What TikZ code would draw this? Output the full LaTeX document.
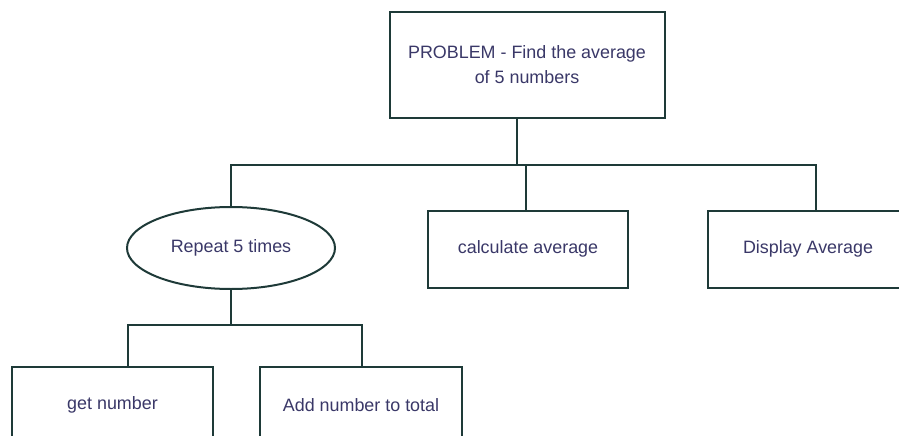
\documentclass[tikz,border=0pt]{standalone}
\usepackage{fontspec}
\setmainfont{Liberation Sans}
\usetikzlibrary{shapes.geometric}
\definecolor{edgecol}{HTML}{1E3A38}
\definecolor{txtcol}{HTML}{3A3868}
\begin{document}
\begin{tikzpicture}[x=1pt,y=-1pt,
  every node/.style={font=\fontsize{17.9}{25}\selectfont, text=txtcol},
  box/.style={draw=edgecol, line width=2pt, rectangle, inner sep=0pt, align=center},
  oval/.style={draw=edgecol, line width=2pt, ellipse, inner sep=0pt, minimum width=208pt, minimum height=82pt},
  link/.style={draw=edgecol, line width=2pt}]
\useasboundingbox (0,0) rectangle (899,436);
\clip (0,0) rectangle (899,436);
\fill[white] (0,0) rectangle (899,436);

% boxes
\node[box, minimum width=275pt, minimum height=106pt] (top) at (527,65)
  {PROBLEM - Find the average\\of 5 numbers};
\node[oval] (rep) at (231,248) {Repeat 5 times};
\node[box, minimum width=200pt, minimum height=77pt] (calc) at (528,249) {calculate average};
\node[box, minimum width=200pt, minimum height=77pt] (disp) at (808,249) {Display Average};
\node[box, minimum width=201pt, minimum height=77pt] (get) at (112.5,405) {get number};
\node[box, minimum width=202pt, minimum height=77pt] (add) at (361,405) {Add number to total};

% junction points of the tree
\coordinate (j1) at (517,165);
\coordinate (jd) at (816,165);
\coordinate (jc) at (526,165);
\coordinate (j2) at (231,325);
\coordinate (jg) at (128,325);
\coordinate (ja) at (362,325);

% connectors
\draw[link] (top.south -| j1) -- (j1);
\draw[link] (rep.north) |- (jd) -- (jd |- disp.north);
\draw[link] (jc) -- (jc |- calc.north);
\draw[link] (rep.south) -- (j2);
\draw[link] (jg |- get.north) -- (jg) -- (ja) -- (ja |- add.north);
\end{tikzpicture}
\end{document}
